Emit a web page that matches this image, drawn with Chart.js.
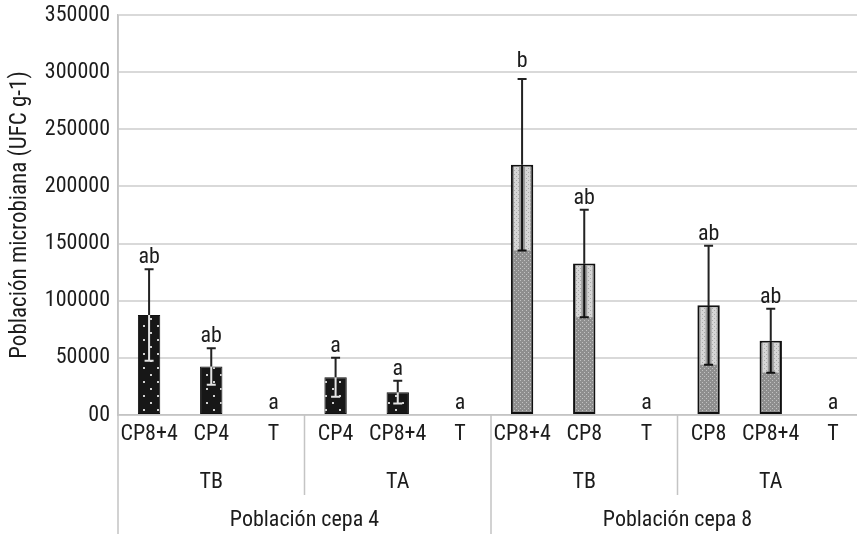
<!DOCTYPE html>
<html><head><meta charset="utf-8">
<script src="https://cdn.jsdelivr.net/npm/chart.js@4.4.1/dist/chart.umd.min.js"></script>
<style>html,body{margin:0;padding:0;background:#fff;overflow:hidden;} #wrap{width:857px;height:534px;overflow:hidden;}</style>
</head><body>
<div id="wrap"><canvas id="c" width="864" height="534"></canvas></div>
<script>
const categories = ['CP8+4','CP4','T','CP4','CP8+4','T','CP8+4','CP8','T','CP8','CP8+4','T'];
const treatmentGroups = ['TB','TA','TB','TA'];
const populationGroups = ['Población cepa 4','Población cepa 8'];
const means  = [87500, 42500, 0, 33000, 20000, 0, 219000, 132500, 0, 96000, 65000, 0];
const errors = [40000, 16000, 0, 17000, 10000, 0, 75000, 47000, 0, 52000, 28000, 0];
const letters = ['ab','ab','a','a','a','a','b','ab','a','ab','ab','a'];
const yTickLabels = ['00','50000','100000','150000','200000','250000','300000','350000'];
const yTitle = 'Población microbiana (UFC g-1)';

const FONT = "'Roboto Condensed', 'Open Sans', sans-serif";
const FS = 22;
const TXT = '#1c1c1c';

function makePattern(w, h, bg, dots, dotColor, size) {
  const c = document.createElement('canvas');
  c.width = w; c.height = h;
  const g = c.getContext('2d');
  g.fillStyle = bg; g.fillRect(0, 0, w, h);
  g.fillStyle = dotColor;
  dots.forEach(d => g.fillRect(d[0], d[1], size, size));
  return g.createPattern(c, 'repeat');
}
const ctx0 = document.getElementById('c').getContext('2d');
const pat4 = makePattern(14, 14, '#171717', [[3,3],[10,10]], '#d0d0d0', 2);
const pat8 = makePattern(4, 4, '#8e8e8e', [[0,0],[2,2]], '#c2c2c2', 1);
const pat8light = makePattern(4, 4, '#d6d6d6', [[0,0],[2,2]], '#a8a8a8', 1);
const popOf = i => Math.floor(i / 6);

const overlay = {
  id: 'overlay',
  afterDatasetsDraw(chart) {
    const ctx = chart.ctx, y = chart.scales.y;
    const meta = chart.getDatasetMeta(0);
    ctx.save();
    meta.data.forEach((bar, i) => {
      const m = means[i], e = errors[i];
      const cx = bar.x;
      const yM = y.getPixelForValue(m);
      const yT = y.getPixelForValue(m + e);
      const yB = y.getPixelForValue(m - e);
      if (e > 0) {
        if (popOf(i) === 1) {
          const w = bar.width;
          ctx.fillStyle = pat8light;
          ctx.fillRect(cx - w/2 + 3, yM + 2, w - 6, yB - yM - 2);
          ctx.fillStyle = '#9a9a9a';
          ctx.fillRect(cx - 3, yM + 2, 6, yB - yM - 2);
          ctx.strokeStyle = '#111';
        } else {
          ctx.strokeStyle = '#e4e4e4';
        }
        ctx.lineWidth = 2;
        ctx.beginPath();
        ctx.moveTo(cx, yM); ctx.lineTo(cx, yB);
        ctx.moveTo(cx - 4.5, yB); ctx.lineTo(cx + 4.5, yB);
        ctx.stroke();
        ctx.strokeStyle = '#222';
        ctx.beginPath();
        ctx.moveTo(cx, yM); ctx.lineTo(cx, yT);
        ctx.moveTo(cx - 4.5, yT); ctx.lineTo(cx + 4.5, yT);
        ctx.stroke();
      }
      ctx.fillStyle = TXT;
      ctx.font = FS + 'px ' + FONT;
      ctx.textAlign = 'center';
      ctx.textBaseline = 'alphabetic';
      ctx.fillText(letters[i], cx, yT - (letters[i] === 'b' ? 12 : 6));
    });
    ctx.restore();
  },
  afterDraw(chart) {
    const ctx = chart.ctx, x = chart.scales.x, area = chart.chartArea;
    const H = chart.height;
    const b = area.bottom;
    const bound = i => (x.getPixelForValue(i - 1) + x.getPixelForValue(i)) / 2;
    ctx.save();
    ctx.strokeStyle = '#c4c4c4';
    ctx.lineWidth = 1.5;
    ctx.beginPath();
    ctx.moveTo(area.left, area.top); ctx.lineTo(area.left, H);
    [3, 9].forEach(i => { const px = bound(i); ctx.moveTo(px, b); ctx.lineTo(px, b + 80); });
    const p6 = bound(6); ctx.moveTo(p6, b); ctx.lineTo(p6, H);
    ctx.stroke();
    ctx.fillStyle = TXT;
    ctx.font = FS + 'px ' + FONT;
    ctx.textAlign = 'center';
    ctx.textBaseline = 'middle';
    treatmentGroups.forEach((t, g) => {
      const cx = (x.getPixelForValue(3*g) + x.getPixelForValue(3*g + 2)) / 2;
      ctx.fillText(t, cx, b + 67);
    });
    populationGroups.forEach((t, g) => {
      const cx = (x.getPixelForValue(6*g) + x.getPixelForValue(6*g + 5)) / 2;
      ctx.fillText(t, cx, b + 105);
    });
    ctx.restore();
  }
};

new Chart(ctx0, {
  type: 'bar',
  data: {
    labels: categories,
    datasets: [{
      data: means,
      backgroundColor: means.map((v, i) => popOf(i) === 0 ? pat4 : pat8),
      borderColor: '#111',
      borderWidth: means.map((v, i) => popOf(i) === 0 ? 1 : 2),
      borderSkipped: false,
      barPercentage: 0.36,
      categoryPercentage: 1
    }]
  },
  options: {
    responsive: false,
    animation: false,
    devicePixelRatio: 1,
    layout: { padding: { top: 15, right: 0, left: 0, bottom: 0 } },
    plugins: { legend: { display: false }, tooltip: { enabled: false } },
    scales: {
      x: {
        grid: { display: false, drawTicks: false },
        border: { display: true, color: '#c4c4c4', width: 1.5 },
        ticks: { font: { family: FONT, size: FS }, color: TXT, padding: 6, maxRotation: 0, autoSkip: false },
        afterFit(s) { s.height = 119; s.paddingLeft = 0; s.paddingRight = 0; }
      },
      y: {
        min: 0, max: 350000,
        grid: { color: '#d9d9d9', lineWidth: 2, drawTicks: false },
        border: { display: true, color: '#c4c4c4', width: 1.5 },
        ticks: {
          stepSize: 50000,
          font: { family: FONT, size: FS }, color: TXT, padding: 8,
          callback: (v, i) => yTickLabels[i]
        },
        title: { display: true, text: yTitle, font: { family: FONT, size: 23 }, color: TXT, padding: { top: 6, bottom: 0 } },
        afterFit(s) { s.width = 118; s.paddingTop = 0; s.paddingBottom = 0; }
      }
    }
  },
  plugins: [overlay]
});
</script>
</body></html>
